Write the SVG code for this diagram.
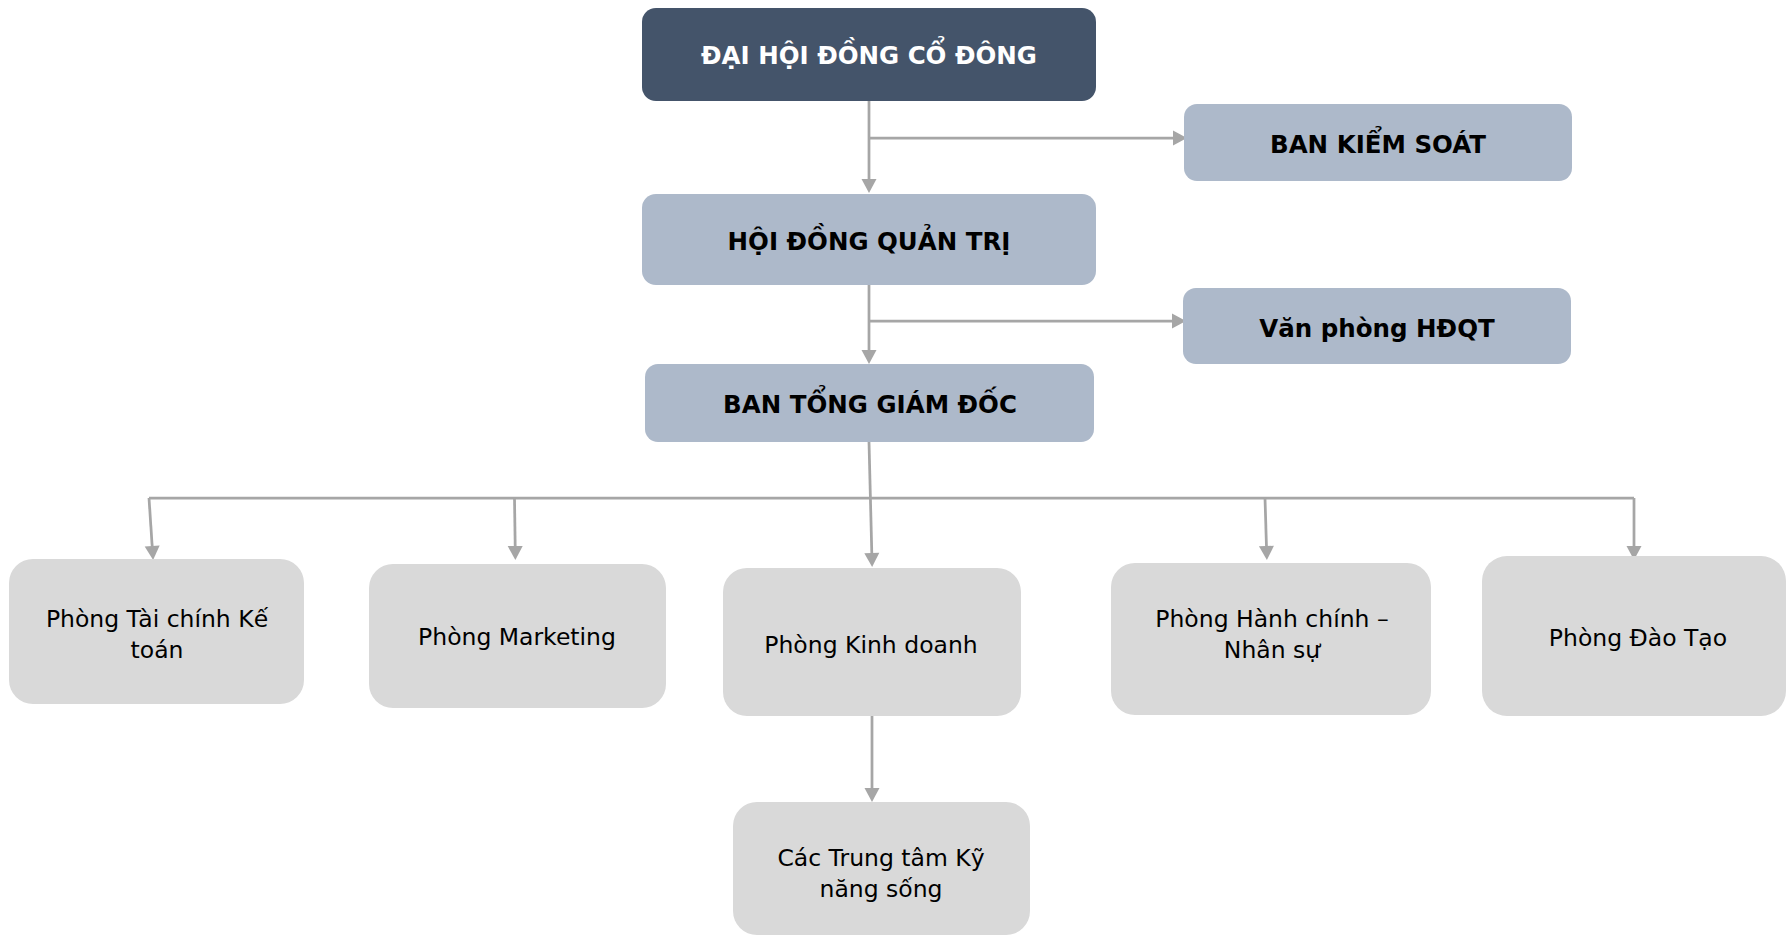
<svg xmlns="http://www.w3.org/2000/svg" width="1786" height="936" viewBox="0 0 1786 936">
<style>
.dark{fill:#44546A}
.blue{fill:#ADB9CA}
.grey{fill:#D9D9D9}
.tb{font-family:"DejaVu Sans","Noto Sans",sans-serif;font-weight:bold;font-size:24.5px;text-anchor:middle;fill:#000}
.tw{fill:#fff}
.tr{font-family:"DejaVu Sans","Noto Sans",sans-serif;font-size:23.5px;text-anchor:middle;fill:#000}
.conn path{fill:none;stroke:#A6A6A6;stroke-width:2.75}
</style>
<defs>
<marker id="arr" markerUnits="userSpaceOnUse" markerWidth="16" markerHeight="16" refX="8" refY="7.5" orient="auto" overflow="visible">
<path d="M0,0 L14,7.5 L0,15 z" fill="#A6A6A6"/>
</marker>
</defs>
<rect width="1786" height="936" fill="#fff"/>
<g class="conn" id="connectors">
<path d="M869,101 V187" marker-end="url(#arr)"/>
<path d="M869,138 H1181" marker-end="url(#arr)"/>
<path d="M869,285 V358" marker-end="url(#arr)"/>
<path d="M869,321 H1180" marker-end="url(#arr)"/>
<path d="M869,442 L872,561" marker-end="url(#arr)"/>
<path d="M149,498 H1634"/>
<path d="M149,498 L152.7,554" marker-end="url(#arr)"/>
<path d="M514.5,498 L515.3,554" marker-end="url(#arr)"/>
<path d="M1265,498 L1266.7,554" marker-end="url(#arr)"/>
<path d="M1634,498 V554" marker-end="url(#arr)"/>
<path d="M872,716 V796" marker-end="url(#arr)"/>
</g>
<g id="n-dhdcd">
<rect class="dark" x="642" y="8" width="454" height="93" rx="14"/>
<text class="tb tw" x="869" y="64">ĐẠI HỘI ĐỒNG CỔ ĐÔNG</text>
</g>
<g id="n-bks">
<rect class="blue" x="1184" y="104" width="388" height="77" rx="13"/>
<text class="tb" x="1378" y="153">BAN KIỂM SOÁT</text>
</g>
<g id="n-hdqt">
<rect class="blue" x="642" y="194" width="454" height="91" rx="14"/>
<text class="tb" x="869" y="250">HỘI ĐỒNG QUẢN TRỊ</text>
</g>
<g id="n-vp">
<rect class="blue" x="1183" y="288" width="388" height="76" rx="13"/>
<text class="tb" x="1377" y="337">Văn phòng HĐQT</text>
</g>
<g id="n-btgd">
<rect class="blue" x="645" y="364" width="449" height="78" rx="13"/>
<text class="tb" x="870" y="413">BAN TỔNG GIÁM ĐỐC</text>
</g>
<g id="n-tckt">
<rect class="grey" x="9" y="559" width="295" height="145" rx="24"/>
<text class="tr" x="157" y="627">Phòng Tài chính Kế</text>
<text class="tr" x="157" y="658">toán</text>
</g>
<g id="n-mkt">
<rect class="grey" x="369" y="564" width="297" height="144" rx="24"/>
<text class="tr" x="517" y="645">Phòng Marketing</text>
</g>
<g id="n-kd">
<rect class="grey" x="723" y="568" width="298" height="148" rx="24"/>
<text class="tr" x="871" y="653">Phòng Kinh doanh</text>
</g>
<g id="n-hcns">
<rect class="grey" x="1111" y="563" width="320" height="152" rx="24"/>
<text class="tr" x="1272" y="627">Phòng Hành chính –</text>
<text class="tr" x="1272" y="658">Nhân sự</text>
</g>
<g id="n-dt">
<rect class="grey" x="1482" y="556" width="304" height="160" rx="25"/>
<text class="tr" x="1638" y="646">Phòng Đào Tạo</text>
</g>
<g id="n-tt">
<rect class="grey" x="733" y="802" width="297" height="133" rx="24"/>
<text class="tr" x="881" y="866">Các Trung tâm Kỹ</text>
<text class="tr" x="881" y="897">năng sống</text>
</g>
</svg>
